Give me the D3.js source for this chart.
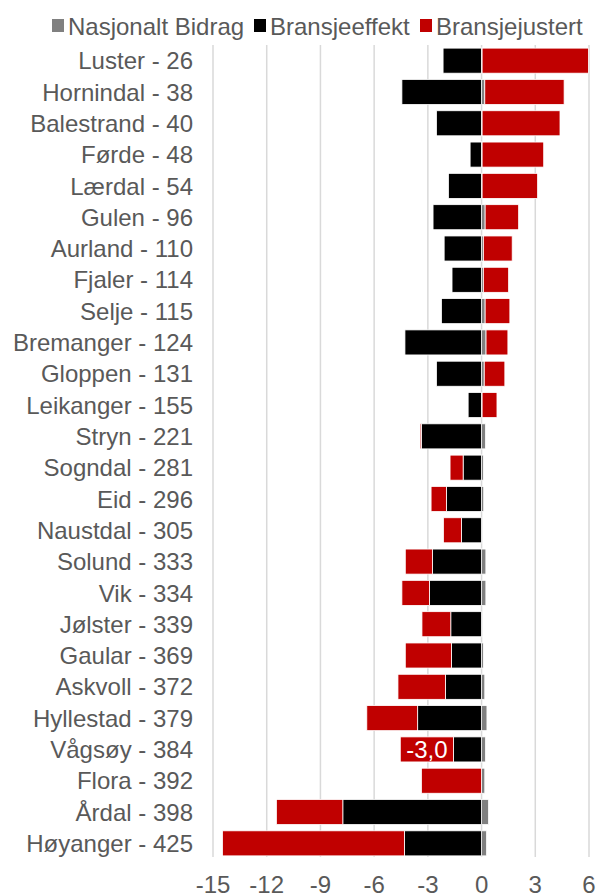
<!DOCTYPE html>
<html>
<head>
<meta charset="utf-8">
<script src="https://cdn.jsdelivr.net/npm/d3@7"></script>
<style>
  body { margin: 0; background: #fff; }
  text { font-family: "Liberation Sans", Arial, sans-serif; fill: #595959; }
</style>
</head>
<body>
<div class="chart"></div>
<script>
const categories = [
  'Luster - 26', 'Hornindal - 38', 'Balestrand - 40', 'Førde - 48', 'Lærdal - 54',
  'Gulen - 96', 'Aurland - 110', 'Fjaler - 114', 'Selje - 115', 'Bremanger - 124',
  'Gloppen - 131', 'Leikanger - 155', 'Stryn - 221', 'Sogndal - 281', 'Eid - 296',
  'Naustdal - 305', 'Solund - 333', 'Vik - 334', 'Jølster - 339', 'Gaular - 369',
  'Askvoll - 372', 'Hyllestad - 379', 'Vågsøy - 384', 'Flora - 392', 'Årdal - 398',
  'Høyanger - 425'
];
const nasjonalt = [0.03, 0.18, 0.03, 0.03, 0.03, 0.2, 0.1, 0.1, 0.2, 0.25, 0.15, 0.03, 0.22,
  0.1, 0.12, 0.05, 0.24, 0.24, 0.05, 0.1, 0.18, 0.3, 0.22, 0.18, 0.39, 0.28];
const bransjeeffekt = [-2.15, -4.45, -2.52, -0.64, -1.85, -2.71, -2.09, -1.65, -2.24, -4.28,
  -2.52, -0.75, -3.36, -1.03, -1.96, -1.12, -2.74, -2.91, -1.72, -1.68, -2.02, -3.57, -1.57,
  0, -7.75, -4.31];
const bransjejustert = [5.94, 4.43, 4.35, 3.44, 3.10, 1.87, 1.61, 1.41, 1.38, 1.22, 1.15, 0.83,
  -0.07, -0.73, -0.86, -1.01, -1.52, -1.54, -1.61, -2.58, -2.65, -2.84, -2.97, -3.36, -3.71,
  -10.16];
const xTicks = [-15, -12, -9, -6, -3, 0, 3, 6];
const labelled = ['Vågsøy - 384']; // only this one shows a value in the original

const series = [
  { key: 'Nasjonalt Bidrag', color: '#808080', values: nasjonalt },
  { key: 'Bransjeeffekt', color: '#000000', values: bransjeeffekt },
  { key: 'Bransjejustert', color: '#c00000', values: bransjejustert },
];

const rows = categories.map((c, i) => {
  const r = { name: c };
  series.forEach(s => (r[s.key] = s.values[i]));
  return r;
});

const width = 597, height = 895;
const margin = { top: 45, right: 8, bottom: 36, left: 213 };

const svg = d3.select('.chart').append('svg')
  .attr('width', width)
  .attr('height', height);

const x = d3.scaleLinear().domain([-15, 6]).range([margin.left, width - margin.right]);
const y = d3.scaleBand().domain(categories)
  .range([margin.top, height - margin.bottom])
  .paddingInner(0.2).paddingOuter(0.1);

const stack = d3.stack()
  .keys(series.map(s => s.key))
  .offset(d3.stackOffsetDiverging);
const stacked = stack(rows);

// gridlines
svg.append('g').attr('class', 'grid')
  .selectAll('line')
  .data(xTicks)
  .enter()
  .append('line')
  .attr('x1', d => x(d)).attr('x2', d => x(d))
  .attr('y1', margin.top).attr('y2', height - margin.bottom - 2)
  .attr('stroke', '#d9d9d9')
  .attr('stroke-width', 1.5);

// bars
svg.append('g').attr('class', 'bars')
  .selectAll('g')
  .data(stacked)
  .enter()
  .append('g')
  .attr('fill', (d, i) => series[i].color)
  .selectAll('rect')
  .data(d => d)
  .enter()
  .append('rect')
  .attr('x', d => x(Math.min(d[0], d[1])))
  .attr('y', d => y(d.data.name))
  .attr('width', d => Math.abs(x(d[1]) - x(d[0])))
  .attr('height', y.bandwidth())
  .attr('stroke', '#fff')
  .attr('stroke-width', 0.8);

// data label on red segment
const redLayer = stacked[2];
svg.append('g').attr('class', 'values')
  .selectAll('text')
  .data(redLayer.filter(d => labelled.includes(d.data.name)))
  .enter()
  .append('text')
  .attr('x', d => x((d[0] + d[1]) / 2))
  .attr('y', d => y(d.data.name) + y.bandwidth() / 2)
  .attr('dy', '0.36em')
  .attr('text-anchor', 'middle')
  .style('fill', '#fff')
  .style('font-size', '24px')
  .text(d => d3.format('.1f')(d.data['Bransjejustert']).replace('.', ',').replace('−', '-'));

// category labels
svg.append('g').attr('class', 'axis axis--y')
  .selectAll('text')
  .data(categories)
  .enter()
  .append('text')
  .attr('x', 193)
  .attr('y', d => y(d) + y.bandwidth() / 2)
  .attr('dy', '0.36em')
  .attr('text-anchor', 'end')
  .style('font-size', '24px')
  .text(d => d);

// x tick labels
svg.append('g').attr('class', 'axis axis--x')
  .selectAll('text')
  .data(xTicks)
  .enter()
  .append('text')
  .attr('x', d => x(d))
  .attr('y', 893)
  .attr('text-anchor', 'middle')
  .style('font-size', '24px')
  .text(d => d);

// legend
const legendX = [52, 254, 420];
const legend = svg.append('g').attr('class', 'legend')
  .selectAll('g')
  .data(series)
  .enter()
  .append('g')
  .attr('transform', (d, i) => 'translate(' + legendX[i] + ',19)');
legend.append('rect')
  .attr('width', 12).attr('height', 13)
  .attr('fill', d => d.color);
legend.append('text')
  .attr('x', 16)
  .attr('y', 7)
  .attr('dy', '0.36em')
  .style('font-size', '24px')
  .text(d => d.key);
</script>
</body>
</html>
